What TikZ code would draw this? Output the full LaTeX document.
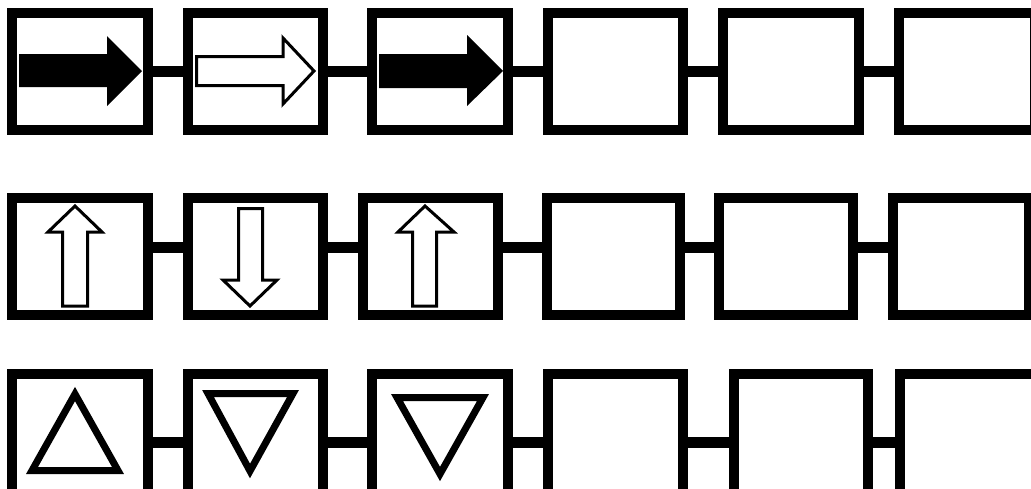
\documentclass[tikz,border=0pt]{standalone}
\begin{document}
\begin{tikzpicture}[x=1pt,y=-1pt,
  box/.style={draw=black,line width=10pt,fill=white,inner sep=0pt,outer sep=0pt,minimum height=117pt},
  link/.style={draw=black,line width=11pt},
  solidarrow/.style={fill=black,draw=none},
  hollowarrow/.style={draw=black,fill=white,line width=3pt,miter limit=10},
  tri/.style={draw=black,fill=white,line width=7pt,miter limit=10}]
\useasboundingbox (0,0) rectangle (1031,488);
\clip (0,0) rectangle (1031,488);
\fill[white] (0,0) rectangle (1031,488);
% Row 1
\node[box,minimum width=136pt] (a1) at (80,71.5) {};
\node[box,minimum width=135pt] (a2) at (255.5,71.5) {};
\node[box,minimum width=136pt] (a3) at (440,71.5) {};
\node[box,minimum width=135pt] (a4) at (615.5,71.5) {};
\node[box,minimum width=136pt] (a5) at (791,71.5) {};
\node[box,minimum width=136pt] (a6) at (967,71.5) {};
% Row 2
\node[box,minimum width=136pt] (b1) at (80,256.5) {};
\node[box,minimum width=135pt] (b2) at (255.5,256.5) {};
\node[box,minimum width=135pt] (b3) at (430.5,256.5) {};
\node[box,minimum width=133pt] (b4) at (613.5,256.5) {};
\node[box,minimum width=134pt] (b5) at (786,256.5) {};
\node[box,minimum width=136pt] (b6) at (961,256.5) {};
% Row 3 (cut off at the bottom edge)
\tikzset{box3/.style={box,minimum height=125pt}}
\node[box3,minimum width=136pt] (c1) at (80,436.5) {};
\node[box3,minimum width=135pt] (c2) at (255.5,436.5) {};
\node[box3,minimum width=136pt] (c3) at (440,436.5) {};
\node[box3,minimum width=135pt] (c4) at (615.5,436.5) {};
\node[box3,minimum width=134pt] (c5) at (801,436.5) {};
\node[box3,minimum width=136pt] (c6) at (968,436.5) {};
% Connectors
\foreach \p/\q in {a1/a2,a2/a3,a3/a4,a4/a5,a5/a6}
  \draw[link] (\p.east) -- (\q.west);
\foreach \p/\q in {b1/b2,b2/b3,b3/b4,b4/b5,b5/b6}
  \draw[link] ([yshift=9.5pt]\p.east) -- ([yshift=9.5pt]\q.west);
\foreach \p/\q in {c1/c2,c2/c3,c3/c4,c4/c5,c5/c6}
  \draw[link] ([yshift=-5.5pt]\p.east) -- ([yshift=-5.5pt]\q.west);
% Row 1 arrows
\path[solidarrow] (19,54) -- (107,54) -- (107,36) -- (142,71) -- (107,106) -- (107,87) -- (19,87) -- cycle;
\path[hollowarrow] (196.5,56.5) -- (283,56.5) -- (283,38) -- (314,71) -- (283,104) -- (283,85.5) -- (196.5,85.5) -- cycle;
\path[solidarrow] (379,54) -- (467,54) -- (467,35) -- (503,71) -- (467,106) -- (467,88) -- (379,88) -- cycle;
% Row 2 arrows
\path[hollowarrow] (62.5,306) -- (62.5,232) -- (48,232) -- (75,206) -- (102,232) -- (87.5,232) -- (87.5,306) -- cycle;
\path[hollowarrow] (238.5,208.5) -- (262.5,208.5) -- (262.5,280) -- (277,280) -- (250,306) -- (223,280) -- (238.5,280) -- cycle;
\path[hollowarrow] (412.5,306) -- (412.5,232) -- (398,232) -- (425,206) -- (454,232) -- (436.5,232) -- (436.5,306) -- cycle;
% Row 3 triangles
\path[tri] (32,470.5) -- (118,470.5) -- (75,394) -- cycle;
\path[tri] (208,393.5) -- (293,393.5) -- (250,471) -- cycle;
\path[tri] (397,397.5) -- (483,397.5) -- (440,474) -- cycle;
\end{tikzpicture}
\end{document}
